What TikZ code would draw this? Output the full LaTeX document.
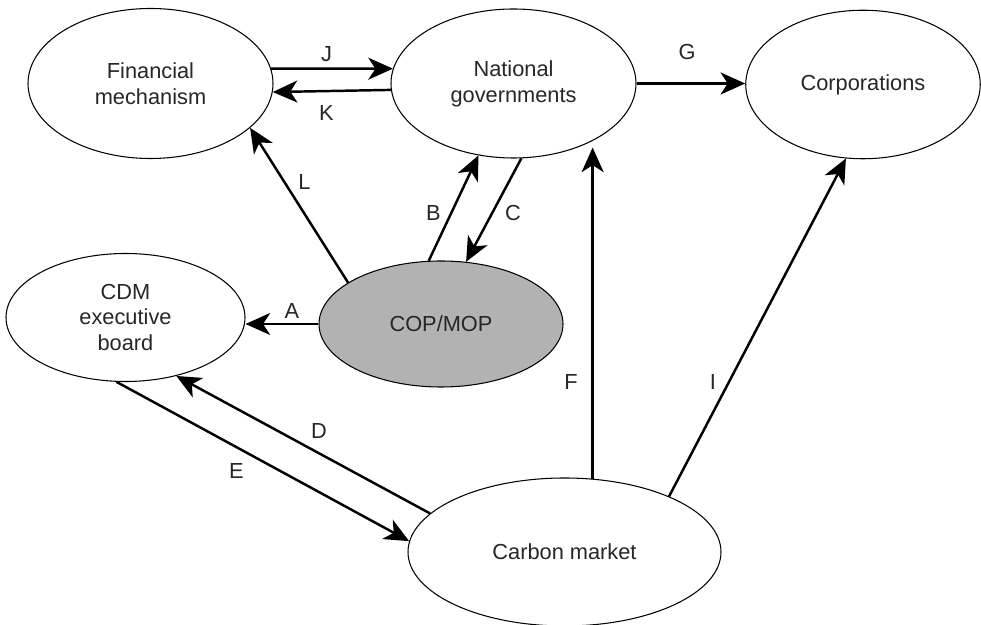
\documentclass[tikz,border=0pt]{standalone}
\usepackage{fontspec}
\setmainfont{Liberation Sans}
\usetikzlibrary{arrows.meta,shapes.geometric}

\begin{document}
\begin{tikzpicture}[every node/.style={text=black!85,font=\fontsize{12.4}{14.7}\selectfont},
                    actor/.style={ellipse,draw,line width=0.6pt,inner sep=0pt,align=center},
                    flow/.style={-{Stealth[length=14pt,width=12.5pt,inset=4pt]},line width=1.4pt}]
   \useasboundingbox (0,0) rectangle (19.62,12.5);
   \node[actor,minimum width=4.90cm,minimum height=3.00cm] (fin) at (3.01,10.83) {Financial\\mechanism};
   \node[actor,minimum width=4.90cm,minimum height=2.98cm] (nat) at (10.27,10.83) {National\\governments};
   \node[actor,minimum width=4.69cm,minimum height=2.97cm] (corp) at (17.26,10.81) {Corporations};
   \node[actor,minimum width=4.78cm,minimum height=2.56cm] (cdm) at (2.51,6.15) {CDM\\executive\\board};
   \node[actor,fill=black!30,minimum width=4.88cm,minimum height=2.52cm] (cop) at (8.82,6.02) {COP/MOP};
   \node[actor,minimum width=6.26cm,minimum height=2.96cm] (carb) at (11.29,1.46) {Carbon market};
   \draw[flow] (fin.7) -- (nat.173);
   \draw[flow] (nat.183.5) -- (fin.356.5);
   \draw[flow] (nat.east) -- (nat.east -| corp.west);
   \draw[flow] (cop.156) -- (fin.336);
   \draw[flow] (cop.101.5) -- (nat.244);
   \draw[flow] (nat.276.5) -- (cop.68);
   \draw[flow] (cop.west) -- (cop.west -| cdm.east);
   \draw[flow] (carb.69) -- (carb.69 |- nat.315);
   \draw[flow] (carb.28) -- (corp.257);
   \draw[flow] (carb.164) -- (cdm.311);
   \draw[flow] (cdm.262) -- (carb.176);
   % arrow letters
   \node (lJ) at (6.53,11.42) {J};
   \node (lK) at (6.53,10.23) {K};
   \node (lG) at (13.74,11.46) {G};
   \node (lL) at (6.09,8.85) {L};
   \node (lB) at (8.67,8.24) {B};
   \node (lC) at (10.26,8.24) {C};
   \node (lA) at (5.84,6.28) {A};
   \node (lF) at (11.42,4.86) {F};
   \node (lI) at (14.26,4.86) {I};
   \node (lD) at (6.38,3.87) {D};
   \node (lE) at (4.73,3.07) {E};
\end{tikzpicture}
\end{document}
